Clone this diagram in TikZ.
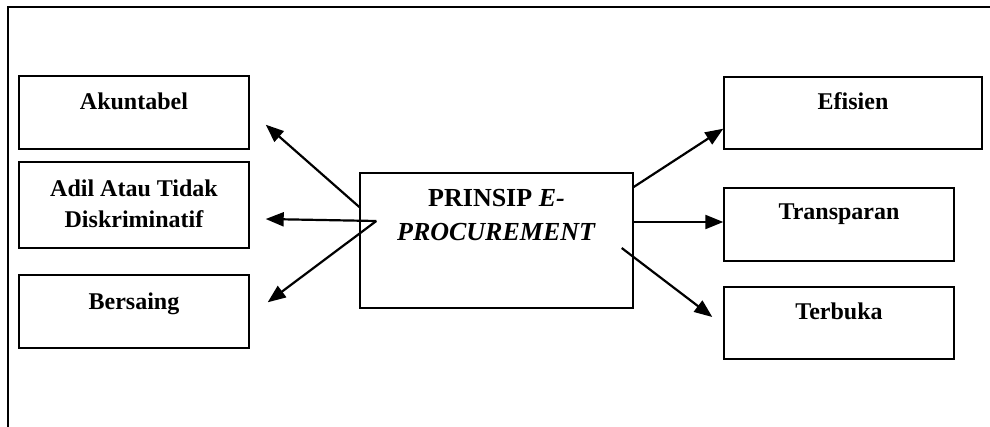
\documentclass[tikz,border=0pt]{standalone}
\usepackage{fontspec}
\setmainfont{Liberation Serif}
\usetikzlibrary{arrows.meta,positioning,calc}

\begin{document}
\begin{tikzpicture}[
    x=0.5pt, y=-0.5pt,
    box/.style={draw,line width=0.7pt,inner sep=0pt,minimum width=115pt,minimum height=36.5pt},
    txt/.style={inner sep=0pt,align=center,font=\fontsize{12}{15.5}\selectfont\bfseries},
    arr/.style={-{Triangle[length=9pt,width=7pt]},line width=1.1pt}
]
\useasboundingbox (0,0) rectangle (990,427);

% outer frame
\draw[line width=0.9pt] (990,7) -- (8,7) -- (8,427);

% left side
\node[box] (akun) at (134,112.5) {};
\node[txt,below=8.5pt of akun.north] (akuntxt) {Akuntabel};

\node[box,minimum height=43pt] (adil) at (134,205) {};
\node[txt,below=9pt of adil.north] (adiltxt) {Adil Atau Tidak\\Diskriminatif};

\node[box] (bers) at (134,311.5) {};
\node[txt,below=9pt of bers.north] (berstxt) {Bersaing};

% center
\node[box,minimum width=136.5pt,minimum height=67.5pt] (prinsip) at (496.5,240.5) {};
\node[txt,font=\fontsize{13}{17}\selectfont\bfseries,below=8.5pt of prinsip.north] (prinsiptxt) {PRINSIP \textit{E-}\\\textit{PROCUREMENT}};

% right side
\node[box,minimum width=129pt,minimum height=36pt] (efis) at (853,113) {};
\node[txt,below=8pt of efis.north] (efistxt) {Efisien};

\node[box] (trans) at (839,224.5) {};
\node[txt,below=8pt of trans.north] (transtxt) {Transparan};

\node[box,minimum height=36pt] (terb) at (839,323) {};
\node[txt,below=8pt of terb.north] (terbtxt) {Terbuka};

% arrows
\draw[arr] ($(prinsip.west)+(0,-33.5)$) -- ($(akun.south east)+(16,-25)$);
\draw[arr] ($(prinsip.west)+(17,-19.5)$) -- ($(adil.east)+(16,14)$);
\draw[arr] ($(prinsip.west)+(17,-19.5)$) -- ($(bers.north east)+(18,28)$);
\draw[arr] ($(prinsip.east)+(0,-53.5)$) -- ($(efis.south west)+(0,-21)$);
\draw[arr] ($(prinsip.east)+(0,-18.5)$) -- ($(trans.west)+(0,-2.5)$);
\draw[arr] ($(prinsip.east)+(-12,7.5)$) -- ($(terb.west)+(-11,-6)$);

\end{tikzpicture}
\end{document}
